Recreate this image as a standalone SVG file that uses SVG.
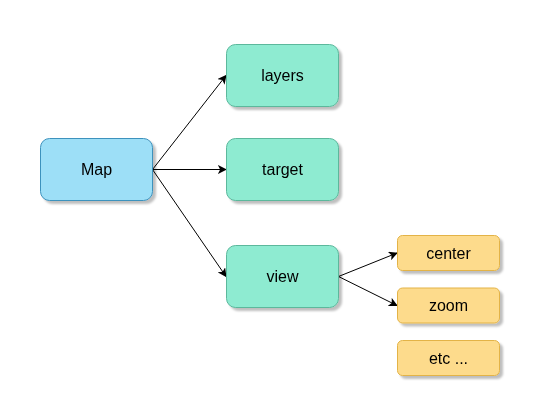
<svg xmlns="http://www.w3.org/2000/svg" width="553" height="406" viewBox="0 0 553 406">
<defs>
<filter id="sh" x="-20%" y="-20%" width="150%" height="160%">
<feDropShadow dx="3" dy="3" stdDeviation="1.2" flood-color="#000" flood-opacity="0.25"/>
</filter>
<marker id="ar" viewBox="0 0 10 10" refX="9" refY="5" markerWidth="9" markerHeight="9" markerUnits="userSpaceOnUse" orient="auto">
<path d="M0,0 L10,5 L0,10 L2.5,5 Z" fill="#000"/>
</marker>
<style>
.blue{fill:#9ddff7;stroke:#3e92bd;stroke-width:1}
.green{fill:#8eebd1;stroke:#5bb89c;stroke-width:1}
.yellow{fill:#fddb8c;stroke:#e3b347;stroke-width:1}
text{font-family:"Liberation Sans",Arial,sans-serif;font-size:16px;fill:#000;text-anchor:middle;dominant-baseline:central}
.c{fill:none;stroke:#000;stroke-width:1;marker-end:url(#ar)}
</style>
</defs>
<rect width="553" height="406" fill="#fff"/>
<g id="connectors">
<path class="c" d="M152.5,169.5 L226,75.5"/>
<path class="c" d="M152.5,169.5 L226,169.5"/>
<path class="c" d="M152.5,169.5 L226,276.5"/>
<path class="c" d="M338.5,276.5 L397,253"/>
<path class="c" d="M338.5,276.5 L397,305.5"/>
</g>
<g id="map" filter="url(#sh)"><rect class="blue" x="40.5" y="138.5" width="112" height="62" rx="9"/><text x="96.5" y="169.5">Map</text></g>
<g id="layers" filter="url(#sh)"><rect class="green" x="226.5" y="44.5" width="112" height="62" rx="9"/><text x="282.5" y="75.5">layers</text></g>
<g id="target" filter="url(#sh)"><rect class="green" x="226.5" y="138.5" width="112" height="62" rx="9"/><text x="282.5" y="169.5">target</text></g>
<g id="view" filter="url(#sh)"><rect class="green" x="226.5" y="245.5" width="112" height="62" rx="9"/><text x="282.5" y="276.5">view</text></g>
<g id="center" filter="url(#sh)"><rect class="yellow" x="397.5" y="235.5" width="102" height="35" rx="5"/><text x="448.5" y="253">center</text></g>
<g id="zoom" filter="url(#sh)"><rect class="yellow" x="397.5" y="288" width="102" height="35" rx="5"/><text x="448.5" y="305.5">zoom</text></g>
<g id="etc" filter="url(#sh)"><rect class="yellow" x="397.5" y="340.5" width="102" height="35" rx="5"/><text x="448.5" y="358">etc ...</text></g>
</svg>
